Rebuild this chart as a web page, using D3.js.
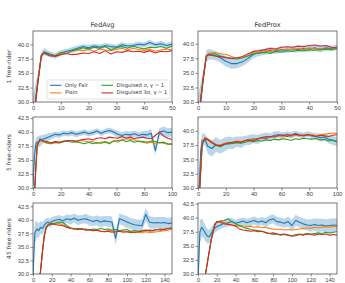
<!DOCTYPE html>
<html>
<head>
<meta charset="utf-8">
<script src="https://cdn.jsdelivr.net/npm/d3@7"></script>
<style>
    body { margin: 0; background: #fff; }
    svg { font-family: "DejaVu Sans", sans-serif; }
</style>
</head>
<body>
<div id="chart"></div>
<script>
// Rounds (per row)
const rounds1 = [0, 1, 2, 3, 4, 6, 8, 10, 12, 14, 16, 18, 20, 22, 24, 26, 28, 30, 32, 34, 36, 38, 40, 42, 44, 46, 48, 50];
const rounds5 = [0, 1, 2, 3, 5, 7, 10, 13, 16, 19, 22, 25, 28, 31, 34, 37, 40, 43, 46, 49, 52, 55, 58, 61, 64, 67, 70, 73, 76, 79, 82, 85, 88, 91, 94, 97, 100];
const rounds45 = [0, 1, 2, 4, 6, 8, 10, 12, 14, 16, 18, 20, 24, 28, 32, 36, 40, 44, 48, 52, 56, 60, 64, 68, 72, 76, 80, 84, 88, 92, 96, 100, 104, 108, 112, 116, 120, 124, 128, 132, 136, 140, 144, 148];

const seriesNames = ["Only Fair", "Plain", "Disguised \u03c3, \u03b3 = 1", "Disguised 3\u03c3, \u03b3 = 1"];
const seriesColors = ["#1f77b4", "#ff7f0e", "#2ca02c", "#d62728"];
const colTitles = ["FedAvg", "FedProx"];
const rowLabels = ["1 free-rider", "5 free-riders", "45 free-riders"];
const yTicks = [30, 32.5, 35, 37.5, 40, 42.5];

// FedAvg, 1 free-rider
const avg1Fair = [26, 30.5, 34.5, 38.0, 38.7, 38.3, 38.0, 38.5, 38.8, 39.0, 39.3, 39.6, 39.4, 39.7, 39.5, 39.8, 39.6, 39.5, 39.9, 39.7, 39.8, 40.0, 39.9, 40.3, 39.9, 40.1, 39.8, 40.0];
const avg1FairStd = [5, 3, 1.0, 0.7, 0.6, 0.5, 0.5, 0.5, 0.4, 0.5, 0.5, 0.4, 0.5, 0.4, 0.5, 0.4, 0.5, 0.4, 0.5, 0.4, 0.4, 0.5, 0.4, 0.5, 0.4, 0.5, 0.4, 0.5];
const avg1Plain = [26, 30.5, 34.3, 38.0, 38.5, 38.0, 38.1, 38.3, 38.4, 38.8, 39.0, 38.9, 39.1, 38.8, 39.2, 39.0, 38.9, 39.1, 39.3, 39.0, 39.3, 39.1, 38.9, 39.2, 38.8, 39.0, 39.2, 39.0];
const avg1Sigma = [26, 30.5, 34.4, 38.0, 38.6, 38.2, 38.0, 38.6, 38.4, 38.9, 39.1, 39.4, 39.2, 39.5, 39.3, 39.6, 39.0, 39.4, 39.6, 39.3, 39.7, 39.4, 39.2, 39.5, 39.4, 39.6, 39.3, 39.7];
const avg1ThreeSigma = [26, 30.5, 34.4, 38.1, 38.5, 38.0, 37.9, 38.2, 38.4, 38.2, 38.3, 38.5, 38.4, 38.7, 38.4, 38.9, 38.3, 38.7, 38.6, 38.9, 38.7, 38.8, 38.6, 38.9, 38.5, 38.8, 38.7, 38.9];

// FedProx, 1 free-rider
const prox1Fair = [26, 30.5, 34.5, 37.9, 38.2, 38.0, 37.6, 37.0, 36.6, 36.6, 36.9, 37.5, 38.2, 38.5, 38.6, 38.9, 38.8, 39.0, 38.9, 39.1, 39.0, 39.2, 39.1, 39.3, 39.0, 39.3, 39.2, 39.4];
const prox1FairStd = [5, 3, 1.2, 1.0, 0.9, 0.8, 0.8, 0.9, 0.9, 0.8, 0.7, 0.7, 0.6, 0.6, 0.5, 0.6, 0.5, 0.6, 0.5, 0.5, 0.5, 0.6, 0.5, 0.5, 0.5, 0.5, 0.5, 0.5];
const prox1Plain = [26, 30.5, 34.6, 38.0, 38.4, 38.5, 38.3, 38.2, 37.8, 37.5, 37.6, 38.0, 38.4, 38.6, 38.8, 38.7, 39.0, 38.9, 39.1, 39.0, 39.2, 39.0, 39.3, 39.1, 39.2, 39.0, 39.1, 39.3];
const prox1Sigma = [26, 30.5, 34.4, 37.8, 38.2, 38.3, 37.9, 37.7, 37.5, 37.4, 37.6, 37.9, 38.3, 38.4, 38.5, 38.4, 38.7, 38.6, 38.8, 38.7, 38.9, 38.8, 39.0, 38.9, 39.0, 39.1, 39.0, 39.2];
const prox1ThreeSigma = [26, 30.5, 34.5, 37.9, 38.1, 37.9, 37.8, 37.6, 37.5, 37.6, 37.8, 38.3, 38.7, 38.8, 39.0, 39.2, 39.1, 39.4, 39.5, 39.4, 39.6, 39.5, 39.7, 39.8, 39.6, 39.7, 39.4, 39.3];

// FedAvg, 5 free-riders
const avg5Fair = [30.5, 35.5, 37.8, 38.2, 38.4, 38.7, 39.0, 39.3, 39.6, 39.5, 39.8, 39.7, 39.9, 39.6, 39.8, 40.0, 39.7, 39.9, 40.2, 39.8, 40.1, 40.3, 40.0, 39.6, 39.4, 39.6, 39.5, 39.7, 39.4, 39.6, 39.5, 39.8, 36.7, 40.0, 40.2, 39.9, 40.0];
const avg5FairStd = [3, 2, 1.2, 1.0, 1.0, 0.8, 0.7, 0.6, 0.5, 0.5, 0.5, 0.5, 0.5, 0.5, 0.5, 0.5, 0.5, 0.5, 0.5, 0.5, 0.5, 0.5, 0.5, 0.6, 0.6, 0.6, 0.6, 0.6, 0.6, 0.6, 0.7, 0.7, 0.8, 0.7, 0.8, 0.8, 0.8];
const avg5Plain = [24, 28.5, 33.5, 37.5, 38.6, 38.3, 38.0, 37.9, 38.1, 38.0, 38.3, 38.4, 38.5, 38.2, 38.5, 38.4, 38.2, 38.3, 38.0, 38.2, 38.3, 38.1, 38.4, 38.2, 38.6, 38.8, 38.7, 38.6, 38.3, 38.2, 38.0, 38.2, 37.9, 38.1, 38.0, 37.8, 38.0];
const avg5Sigma = [24, 28.5, 33.6, 37.6, 38.8, 38.5, 38.1, 38.0, 38.2, 38.1, 38.3, 38.4, 38.2, 38.3, 38.1, 37.9, 38.2, 37.9, 38.1, 38.0, 38.2, 37.9, 38.4, 38.5, 38.6, 38.3, 38.5, 38.2, 38.4, 38.3, 38.2, 38.4, 38.3, 38.1, 38.2, 37.9, 37.8];
const avg5ThreeSigma = [24, 28.5, 33.4, 37.5, 38.7, 38.4, 38.3, 38.1, 38.3, 38.2, 38.4, 38.5, 38.5, 38.4, 38.6, 38.7, 38.8, 38.6, 38.9, 39.0, 38.8, 39.1, 39.0, 38.9, 39.2, 38.9, 39.1, 38.8, 39.0, 39.1, 38.9, 38.8, 39.4, 40.0, 39.3, 38.9, 38.7];

// FedProx, 5 free-riders
const prox5Fair = [26, 31, 36.5, 38.3, 38.5, 37.3, 36.9, 37.6, 37.2, 37.6, 37.9, 37.8, 38.1, 38.0, 38.3, 38.4, 38.6, 38.5, 38.8, 39.0, 38.9, 39.2, 39.3, 39.1, 39.4, 39.2, 39.5, 39.3, 39.2, 39.4, 39.1, 39.0, 38.8, 38.9, 38.5, 38.3, 38.1];
const prox5FairStd = [3, 2.5, 1.5, 1.2, 1.0, 1.3, 1.4, 1.3, 1.2, 1.2, 1.1, 1.0, 0.9, 1.0, 0.8, 0.9, 0.8, 0.8, 0.7, 0.7, 0.6, 0.7, 0.6, 0.6, 0.5, 0.6, 0.5, 0.5, 0.5, 0.5, 0.6, 0.6, 0.7, 0.7, 0.7, 0.8, 0.8];
const prox5Plain = [24, 28.5, 33.5, 37.8, 38.8, 38.6, 38.1, 37.6, 37.5, 37.8, 37.9, 38.0, 38.2, 38.1, 38.3, 38.5, 38.4, 38.6, 38.8, 38.7, 38.9, 39.0, 39.1, 39.0, 39.2, 39.0, 39.2, 39.1, 39.3, 39.2, 39.3, 39.1, 39.3, 39.4, 39.5, 39.6, 39.5];
const prox5Sigma = [24, 28.5, 33.3, 37.6, 38.5, 38.4, 37.9, 37.4, 37.3, 37.6, 37.7, 37.8, 37.9, 37.8, 38.0, 38.2, 38.1, 38.3, 38.2, 38.4, 38.3, 38.5, 38.4, 38.6, 38.5, 38.3, 38.6, 38.5, 38.7, 38.6, 38.5, 38.7, 38.4, 38.5, 38.2, 38.4, 38.1];
const prox5ThreeSigma = [24, 28.5, 33.4, 37.7, 38.7, 38.5, 37.9, 37.5, 37.4, 37.7, 37.9, 38.0, 38.1, 38.0, 38.3, 38.4, 38.3, 38.6, 38.8, 38.7, 39.0, 38.9, 39.2, 39.3, 39.0, 39.2, 39.4, 39.2, 39.1, 39.3, 39.2, 39.0, 39.2, 39.1, 39.0, 39.2, 39.3];

// FedAvg, 45 free-riders
const avg45Fair = [29, 34, 37.6, 38.3, 38.0, 38.6, 38.4, 39.0, 39.4, 39.6, 39.3, 39.7, 39.9, 40.1, 39.8, 40.2, 40.0, 40.3, 39.9, 40.1, 40.2, 39.9, 39.7, 39.9, 39.6, 39.8, 39.7, 39.6, 36.6, 40.2, 39.9, 39.6, 39.3, 39.1, 39.0, 38.9, 41.0, 39.6, 39.4, 39.5, 39.4, 39.5, 39.3, 39.4];
const avg45FairStd = [4, 3, 2, 1.5, 1.3, 1.2, 1.1, 1.0, 0.9, 0.8, 0.8, 0.8, 0.8, 0.8, 0.8, 0.8, 0.9, 0.8, 0.9, 0.8, 0.9, 0.9, 0.9, 0.9, 1.0, 0.9, 1.0, 1.0, 1.3, 1.0, 1.0, 1.1, 1.0, 1.1, 1.0, 1.1, 1.2, 1.1, 1.1, 1.0, 1.1, 1.0, 1.1, 1.1];
const avg45Plain = [17.5, 19, 20.5, 24, 27.5, 30.5, 34, 37, 38.5, 39.0, 39.2, 39.3, 39.2, 39.3, 39.0, 38.8, 38.5, 38.4, 38.2, 38.3, 38.1, 38.2, 38.0, 38.1, 37.9, 37.8, 38.0, 37.9, 37.7, 38.0, 37.9, 37.8, 37.9, 37.6, 37.7, 37.6, 37.8, 37.6, 37.7, 37.8, 37.9, 38.0, 38.1, 38.3];
const avg45Sigma = [17.5, 19, 20.5, 24, 27.5, 30.5, 34, 37.2, 38.6, 39.1, 39.3, 39.2, 39.4, 39.6, 39.5, 38.9, 38.5, 38.3, 38.4, 38.2, 38.3, 38.1, 38.3, 38.2, 38.4, 38.2, 38.3, 38.1, 38.2, 38.0, 38.1, 38.2, 37.9, 38.0, 37.9, 38.0, 38.1, 37.9, 38.0, 38.2, 38.3, 38.2, 38.4, 38.5];
const avg45ThreeSigma = [17.5, 19, 20.5, 24, 27.5, 30.5, 34, 37.0, 38.5, 39.0, 39.1, 39.3, 39.1, 39.0, 38.9, 38.6, 38.4, 38.3, 38.2, 38.4, 38.1, 38.2, 38.0, 38.1, 37.9, 37.8, 37.9, 37.7, 37.8, 37.9, 37.7, 37.8, 37.6, 37.7, 37.8, 37.9, 38.0, 38.1, 38.0, 38.2, 38.1, 38.3, 38.4, 38.5];

// FedProx, 45 free-riders
const prox45Fair = [29, 33, 37.5, 38.3, 37.8, 37.2, 36.7, 36.6, 37.2, 37.8, 38.2, 38.4, 38.7, 39.0, 39.1, 39.3, 39.0, 39.2, 39.4, 39.1, 39.3, 39.5, 39.2, 39.4, 39.1, 39.6, 39.8, 39.3, 39.2, 39.0, 39.3, 38.6, 39.5, 39.2, 38.9, 38.7, 38.6, 38.8, 38.6, 38.7, 38.5, 38.6, 38.7, 38.6];
const prox45FairStd = [4, 3, 2, 1.6, 1.5, 1.4, 1.3, 1.2, 1.1, 1.0, 0.9, 0.8, 0.7, 0.7, 0.7, 0.7, 0.6, 0.7, 0.6, 0.7, 0.7, 0.7, 0.7, 0.7, 0.8, 0.8, 0.8, 0.8, 0.8, 0.8, 0.9, 1.0, 1.0, 0.9, 1.0, 1.0, 1.1, 1.1, 1.2, 1.1, 1.2, 1.2, 1.2, 1.2];
const prox45Plain = [22, 23, 24, 26, 28, 30, 32, 34, 36, 37.5, 38.8, 39.3, 39.4, 39.1, 38.9, 38.7, 38.6, 38.5, 38.6, 38.4, 38.5, 38.3, 38.4, 38.2, 38.3, 38.1, 38.0, 37.9, 38.0, 37.8, 37.9, 37.8, 37.9, 38.0, 38.1, 38.2, 38.1, 38.3, 38.2, 38.3, 38.4, 38.3, 38.5, 38.4];
const prox45Sigma = [22, 23, 24, 26, 28, 30, 32, 34, 36.1, 37.6, 38.9, 39.2, 39.4, 39.5, 39.8, 39.3, 38.9, 38.6, 38.3, 38.1, 37.9, 37.8, 37.7, 37.6, 37.4, 37.2, 37.0, 37.1, 36.9, 37.0, 36.9, 36.8, 37.0, 37.1, 37.0, 37.2, 37.1, 37.2, 37.3, 37.2, 37.4, 37.3, 37.4, 37.5];
const prox45ThreeSigma = [22, 23, 24, 26, 28, 30, 32, 34, 35.9, 37.4, 38.7, 39.3, 39.2, 38.9, 38.8, 38.7, 38.5, 38.0, 37.8, 37.7, 37.6, 37.7, 37.5, 37.6, 37.3, 37.2, 37.3, 37.1, 37.0, 37.1, 36.9, 36.7, 36.8, 37.0, 36.9, 37.1, 37.0, 36.9, 37.1, 37.0, 37.1, 36.9, 37.0, 36.9];

const rows = [
    { rounds: rounds1, xMax: 50, xTicks: [0, 10, 20, 30, 40, 50], yMax: [42.3, 42.2] },
    { rounds: rounds5, xMax: 100, xTicks: [0, 20, 40, 60, 80, 100], yMax: [42.7, 42.4] },
    { rounds: rounds45, xMax: 148, xTicks: [0, 20, 40, 60, 80, 100, 120, 140], yMax: [43.1, 42.6] }
];

const panelData = [
    [
        { fair: avg1Fair, std: avg1FairStd, others: [avg1Plain, avg1Sigma, avg1ThreeSigma] },
        { fair: prox1Fair, std: prox1FairStd, others: [prox1Plain, prox1Sigma, prox1ThreeSigma] }
    ],
    [
        { fair: avg5Fair, std: avg5FairStd, others: [avg5Plain, avg5Sigma, avg5ThreeSigma] },
        { fair: prox5Fair, std: prox5FairStd, others: [prox5Plain, prox5Sigma, prox5ThreeSigma] }
    ],
    [
        { fair: avg45Fair, std: avg45FairStd, others: [avg45Plain, avg45Sigma, avg45ThreeSigma] },
        { fair: prox45Fair, std: prox45FairStd, others: [prox45Plain, prox45Sigma, prox45ThreeSigma] }
    ]
];

const width = 345, height = 283;
const colLeft = [33, 198];
const rowTop = [31, 117, 203];
const panelW = 139, panelH = 71;

const svg = d3.select("#chart").append("svg")
    .attr("width", width)
    .attr("height", height);

const defs = svg.append("defs");

rows.forEach((row, r) => {
    colTitles.forEach((title, c) => {
        const left = colLeft[c], top = rowTop[r];
        const d = panelData[r][c];

        const x = d3.scaleLinear().domain([0, row.xMax]).range([left, left + panelW]);
        const y = d3.scaleLinear().domain([30, row.yMax[c]]).range([top + panelH, top]);

        const clipId = `clip-${r}-${c}`;
        defs.append("clipPath").attr("id", clipId)
            .append("rect")
            .attr("x", left).attr("y", top)
            .attr("width", panelW).attr("height", panelH);

        const g = svg.append("g");
        const plot = g.append("g").attr("clip-path", `url(#${clipId})`);

        // Std band around "Only Fair"
        const area = d3.area()
            .x((v, i) => x(row.rounds[i]))
            .y0((v, i) => y(v - d.std[i]))
            .y1((v, i) => y(v + d.std[i]));
        plot.append("path")
            .datum(d.fair)
            .attr("fill", seriesColors[0])
            .attr("fill-opacity", 0.3)
            .attr("d", area);

        const line = d3.line()
            .x((v, i) => x(row.rounds[i]))
            .y(v => y(v));

        [d.fair, ...d.others].forEach((values, k) => {
            plot.append("path")
                .datum(values)
                .attr("fill", "none")
                .attr("stroke", seriesColors[k])
                .attr("stroke-width", 1.1)
                .attr("stroke-linejoin", "round")
                .attr("d", line);
        });

        // Axes
        const xAxis = g.append("g")
            .attr("transform", `translate(0,${top + panelH})`)
            .call(d3.axisBottom(x).tickValues(row.xTicks).tickSize(2.5).tickPadding(1.5).tickFormat(d3.format("d")));
        const yAxis = g.append("g")
            .attr("transform", `translate(${left},0)`)
            .call(d3.axisLeft(y).tickValues(yTicks.filter(t => t <= row.yMax[c])).tickSize(2.5).tickPadding(1.5).tickFormat(d3.format(".1f")));

        [xAxis, yAxis].forEach(ax => {
            ax.select(".domain").remove();
            ax.selectAll("line").attr("stroke", "#555").attr("stroke-width", 0.7);
            ax.selectAll("text").attr("fill", "#444").style("font-size", "5.8px");
        });

        g.append("rect")
            .attr("x", left).attr("y", top)
            .attr("width", panelW).attr("height", panelH)
            .attr("fill", "none")
            .attr("stroke", "#555")
            .attr("stroke-width", 0.8);

        if (r === 0) {
            svg.append("text")
                .attr("x", left + panelW / 2)
                .attr("y", top - 4)
                .attr("text-anchor", "middle")
                .attr("fill", "#333")
                .style("font-size", "6.7px")
                .text(title);
        }
    });

    svg.append("text")
        .attr("transform", `translate(9,${rowTop[r] + panelH / 2}) rotate(-90)`)
        .attr("text-anchor", "middle")
        .attr("dominant-baseline", "middle")
        .attr("fill", "#333")
        .style("font-size", "6px")
        .text(rowLabels[r]);
});

// Legend (top-left panel)
const legend = svg.append("g").attr("transform", "translate(47,80)");
legend.append("rect")
    .attr("width", 123).attr("height", 19)
    .attr("rx", 1.5)
    .attr("fill", "#fff").attr("fill-opacity", 0.8)
    .attr("stroke", "#ccc").attr("stroke-width", 0.6);

seriesNames.forEach((name, i) => {
    const col = Math.floor(i / 2), rowIdx = i % 2;
    const lx = 3 + col * 51.5, ly = 5.3 + rowIdx * 7.6;
    legend.append("line")
        .attr("x1", lx).attr("x2", lx + 11.5)
        .attr("y1", ly).attr("y2", ly)
        .attr("stroke", seriesColors[i]).attr("stroke-width", 1.1);
    legend.append("text")
        .attr("x", lx + 15)
        .attr("y", ly)
        .attr("dominant-baseline", "middle")
        .attr("fill", "#333")
        .style("font-size", "5.2px")
        .text(name);
});
</script>
</body>
</html>
